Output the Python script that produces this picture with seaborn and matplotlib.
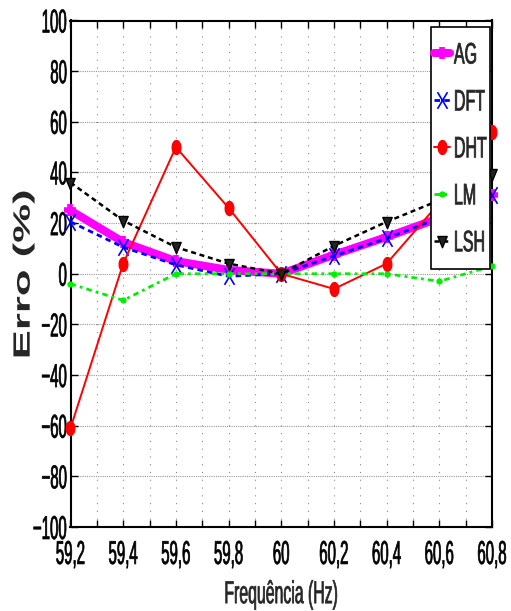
import numpy as np
import pandas as pd
import matplotlib
matplotlib.use("Agg")
import matplotlib.pyplot as plt
import seaborn as sns
from matplotlib.ticker import FixedLocator, FuncFormatter
from matplotlib.patheffects import AbstractPathEffect
from matplotlib.transforms import Affine2D
from matplotlib.path import Path
from matplotlib.patches import Rectangle

freq = [59.2, 59.4, 59.6, 59.8, 60.0, 60.2, 60.4, 60.6, 60.8]
ag = [25, 12.5, 5, 1.5, 0, 7.5, 14.5, 22, 31]
dft = [20.5, 10.5, 3.5, -1, 0, 7, 14, 22, 31]
dht = [-61, 4, 50, 26, 0, -6, 4, 28, 56]
lm = [-4, -10.5, 0, 0, 0, 0, 0, -3, 3]
lsh = [36, 21, 10.5, 4, 0, 11, 20.5, 29, 39.5]
names = ["AG", "DFT", "DHT", "LM", "LSH"]
series = [ag, dft, dht, lm, lsh]


class Stretch(AbstractPathEffect):
    """Scale glyph outlines (text stays text) and thicken strokes slightly."""
    def __init__(self, sx=1.0, sy=2.0, yc=36.0, stroke=0.0):
        super().__init__()
        self.sx, self.sy, self.yc, self.stroke = sx, sy, yc, stroke

    def draw_path(self, renderer, gc, tpath, affine, rgbFace=None):
        v = tpath.vertices
        xc = 0.5 * (v[:, 0].min() + v[:, 0].max()) if len(v) else 0.0
        t = (Affine2D().translate(-xc, -self.yc).scale(self.sx, self.sy)
             .translate(xc, self.yc) + affine)
        gc0 = renderer.new_gc()
        gc0.copy_properties(gc)
        if self.stroke > 0 and rgbFace is not None:
            gc0.set_linewidth(self.stroke)
            gc0.set_foreground(rgbFace)
            gc0.set_joinstyle("round")
        renderer.draw_path(gc0, tpath, t, rgbFace)
        gc0.restore()


sns.set_style("ticks")
FONT = ["Liberation Sans", "DejaVu Sans"]
plt.rcParams["font.family"] = FONT

fig = plt.figure(figsize=(5.11, 6.11), dpi=100)
ax = fig.add_axes([70.5/511, 1-527/611, 421.5/511, 506.5/611])

# stretched marker shapes (the reference is vertically stretched)
th = np.linspace(0, 2*np.pi, 40)
ellipse = Path(np.column_stack([0.62*np.cos(th), np.sin(th)]), closed=True)
xmark = Path([(-0.6, -1), (0.6, 1), (-0.6, 1), (0.6, -1)],
             [Path.MOVETO, Path.LINETO, Path.MOVETO, Path.LINETO])
tri = Path([(-0.75, 0.8), (0.75, 0.8), (0, -1), (-0.75, 0.8)], closed=True)

styles = {
    "AG": dict(color="#ff00ff", lw=5.8, ls="-", marker="+", ms=9, mew=4, mfc="#ff00ff"),
    "DFT": dict(color="#0000ff", lw=2.0, ls=(0, (2, 1.5)), marker=xmark, ms=12, mew=1.2, mfc="none"),
    "DHT": dict(color="#ff0000", lw=1.4, ls="-", marker=ellipse, ms=10, mew=1.0, mfc="#ff0000"),
    "LM": dict(color="#00ee00", lw=2.0, ls=(0, (2, 1.5, 1, 1.5)), marker=".", ms=7, mew=1.0, mfc="#00ee00"),
    "LSH": dict(color="#000000", lw=1.8, ls=(0, (2, 1.5)), marker=tri, ms=9, mew=1.0, mfc="#222222"),
}

for name, vals in zip(names, series):
    df = pd.DataFrame({"f": freq, "v": vals})
    st = styles[name]
    sns.lineplot(data=df, x="f", y="v", ax=ax, label=name, color=st["color"],
                 linewidth=st["lw"], linestyle=st["ls"], marker=st["marker"],
                 markersize=st["ms"], markeredgecolor=st["color"],
                 markerfacecolor=st["mfc"],
                 markeredgewidth=st["mew"], clip_on=False, zorder=3)

ax.set_xlim(59.2, 60.8)
ax.set_ylim(-100, 100)
xt = [59.2 + 0.1 * i for i in range(17)]
ax.xaxis.set_major_locator(FixedLocator(xt))


def xfmt(v, pos):
    i = int(round((v - 59.2) / 0.1))
    if i % 2:
        return ""
    s = f"{v:.1f}".replace(".", ",")
    if s.endswith(",0"):
        s = s[:-2]
    return s


ax.xaxis.set_major_formatter(FuncFormatter(xfmt))
ax.yaxis.set_major_locator(FixedLocator(list(range(-100, 101, 20))))
ax.tick_params(direction="in", top=True, right=True, length=5, width=1,
               labelsize=10.8, colors="black")
ax.tick_params(axis="y", pad=2.5)
ax.tick_params(axis="x", pad=14)

ax.grid(False)
for x in xt[1:-1]:
    ax.axvline(x, color="#888888", lw=0.8, ls=(0, (1, 6)), zorder=0)
for y in range(-80, 100, 20):
    ax.axhline(y, color="#999999", lw=0.8, ls=(0, (1, 1)), zorder=0)
for sp in ax.spines.values():
    sp.set_linewidth(1.5)
    sp.set_color("black")

ax.set_xlabel("Frequência (Hz)", fontsize=11.4, labelpad=18)
ax.set_ylabel("Erro (%)", fontsize=17, fontweight="bold")
ax.yaxis.set_label_coords(-0.085, 0.498)

leg = ax.legend(loc="upper right", bbox_to_anchor=(0.995, 0.9548),
                fontsize=11.5, handlelength=1.0, handletextpad=0.25,
                labelspacing=2.0, borderpad=0.2,
                borderaxespad=0.0, frameon=False)
leg.set_zorder(6)

fig.canvas.draw()
for lab in ax.get_xticklabels() + ax.get_yticklabels():
    lab.set_path_effects([Stretch(1.0, 2.2, stroke=0.5)])
for t in leg.get_texts():
    t.set_path_effects([Stretch(1.0, 1.85, stroke=0.55)])
ax.xaxis.label.set_path_effects([Stretch(1.0, 2.0, stroke=0.5)])
ax.yaxis.label.set_path_effects([Stretch(1.85, 1.0)])

# legend frame: legend's own box, padded vertically
bb = leg.get_window_extent()
vpad = 16.4
frame = Rectangle((bb.x0, bb.y0 - vpad), bb.width, bb.height + 2 * vpad,
                  transform=None, facecolor="white", edgecolor="black",
                  linewidth=1.2, zorder=5.5, clip_on=False)
ax.add_artist(frame)

fig.savefig("out.png", dpi=100)
